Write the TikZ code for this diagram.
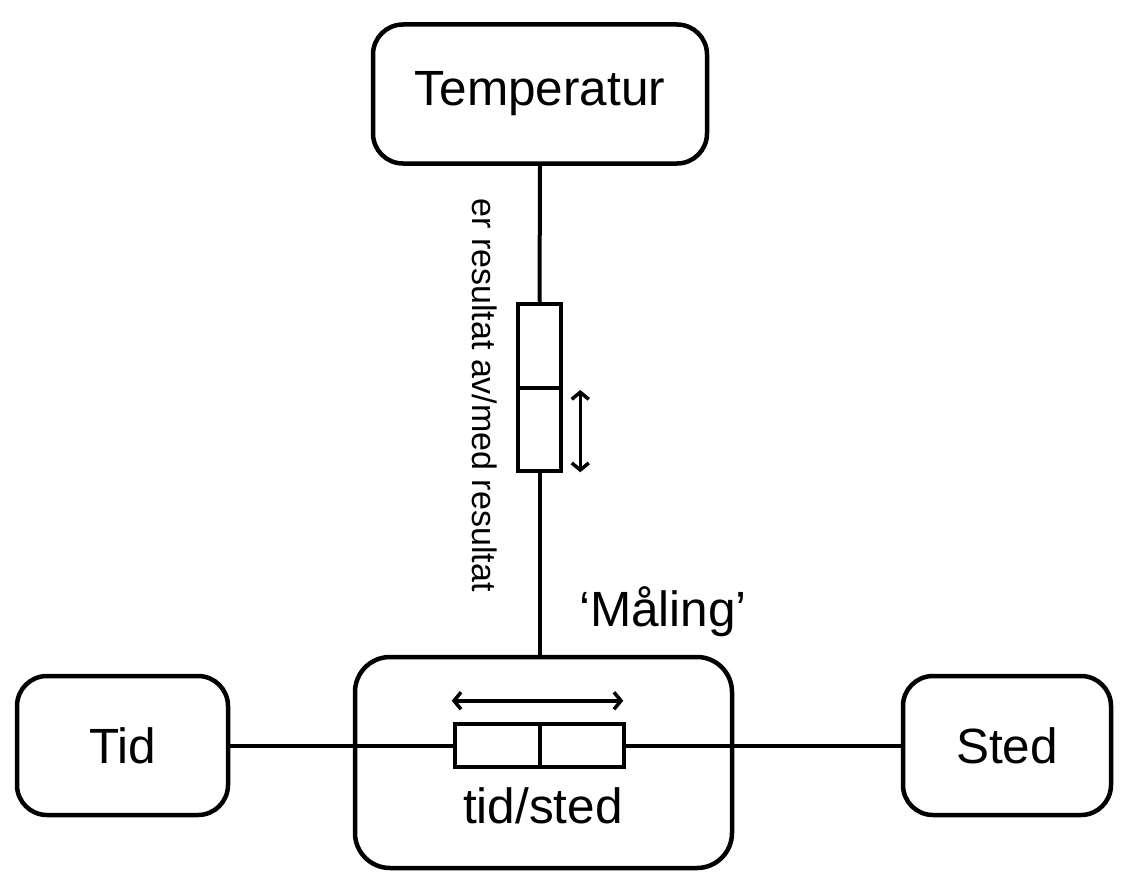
\documentclass[tikz,border=0pt]{standalone}
\usepackage{fontspec}
\setmainfont{Liberation Sans}
\usetikzlibrary{arrows.meta}
\begin{document}
\begin{tikzpicture}[x=1pt,y=-1pt,
    ting/.style={draw,line width=4.5pt,rounded corners=30pt,minimum height=139pt,inner sep=0pt,
      font=\fontsize{49.5}{58}\selectfont},
    rolle/.style={draw,fill=white,line width=4.5pt,inner sep=0pt},
    strek/.style={line width=4pt},
    pil/.style={{Straight Barb[length=7pt,width=17pt]}-{Straight Barb[length=7pt,width=17pt]},line width=3.5pt}]
\useasboundingbox (0,0) rectangle (1125,883);
% objekttyper
\node[ting,minimum width=334pt] (temp) at (540,94) {Temperatur};
\node[ting,minimum width=211pt] (tid) at (122.5,745.5) {Tid};
\node[ting,minimum width=208pt] (sted) at (1007,745.5) {Sted};
\node[ting,minimum width=377pt,minimum height=211pt,rounded corners=35pt] (maaling) at (543.5,762.5) {};
% rollebokser
\node[rolle,minimum width=43pt,minimum height=167pt] (vbox) at (539.5,387.5) {};
\draw[strek] (vbox.west) -- (vbox.east);
\node[rolle,minimum width=169pt,minimum height=43pt] (hbox) at (539.5,745.5) {};
\draw[strek] (hbox.north) -- (hbox.south);
% forbindelser
\draw[strek] (temp.south) -- (vbox.north);
\draw[strek] (vbox.south) -- (vbox.south |- maaling.north);
\draw[strek] (tid.east) -- (hbox.west);
\draw[strek] (hbox.east) -- (sted.west);
% lesepiler
\coordinate (h1) at ([xshift=-1pt,yshift=21pt]hbox.north west);
\coordinate (h2) at ([xshift=-3pt,yshift=21pt]hbox.north east);
\draw[pil] (h1) -- (h2);
\coordinate (v1) at ([xshift=17pt,yshift=-2.5pt]vbox.east);
\coordinate (v2) at ([xshift=17pt,yshift=1pt]vbox.south east);
\draw[pil] (v1) -- (v2);
% tekster
\node[rotate=-90,inner sep=0pt,font=\fontsize{34}{40}\selectfont] (rolletekst) at (485,395)
  {er resultat av/med resultat};
\node[inner sep=0pt,font=\fontsize{49.5}{58}\selectfont] (tidsted) at (543,806) {tid/sted};
\node[inner sep=0pt,font=\fontsize{49.5}{58}\selectfont] (navn) at (663,612) {‘Måling’};
\end{tikzpicture}
\end{document}
